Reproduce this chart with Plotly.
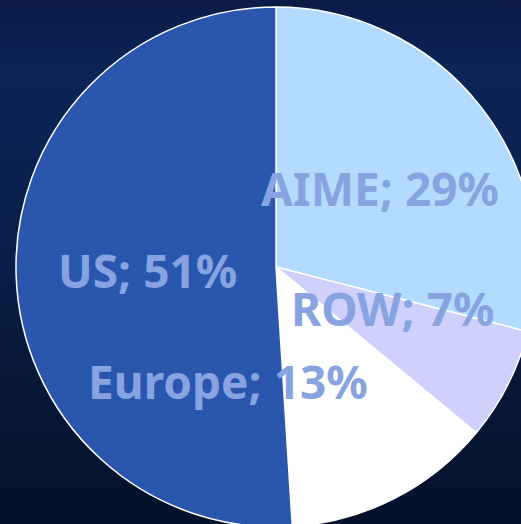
import base64
import plotly.graph_objects as go

labels = ["AIME", "ROW", "Europe", "US"]
values = [29, 7, 13, 51]
colors = ["#b3dbff", "#d0d0ff", "#ffffff", "#2b56ae"]

# label anchor positions (pixel, from top-left)
label_pos = {"AIME": (380, 188), "ROW": (392, 308), "Europe": (228, 381), "US": (147, 270)}

W, H = 552, 534
cx, cy, r = 276, 267, 260

fig = go.Figure(go.Pie(
    labels=labels, values=values, sort=False, direction="clockwise", rotation=0,
    marker=dict(colors=colors, line=dict(color="#ffffff", width=1.5)),
    textinfo="none", hoverinfo="label+percent", showlegend=False,
    domain=dict(x=[(cx - r) / W, (cx + r) / W], y=[(H - cy - r) / H, (H - cy + r) / H]),
))

total = sum(values)
for lab, val in zip(labels, values):
    px, py = label_pos[lab]
    fig.add_annotation(
        x=px / W, y=1 - py / H, xref="paper", yref="paper",
        text=f"<b>{lab}; {round(val / total * 100)}%</b>", showarrow=False,
        font=dict(family="Noto Sans", size=46, color="#87a4e0"),
        xanchor="center", yanchor="middle",
    )

svg = (
    '<svg xmlns="http://www.w3.org/2000/svg" width="100" height="100" preserveAspectRatio="none">'
    '<defs><linearGradient id="g" x1="0" y1="0" x2="0" y2="1">'
    '<stop offset="0" stop-color="#0b1b46"/>'
    '<stop offset="0.13" stop-color="#0c2457"/>'
    '<stop offset="0.45" stop-color="#0a1f4a"/>'
    '<stop offset="0.68" stop-color="#08183a"/>'
    '<stop offset="1" stop-color="#05112a"/>'
    '</linearGradient></defs><rect width="100" height="100" fill="url(#g)"/></svg>'
)
bg_src = "data:image/svg+xml;base64," + base64.b64encode(svg.encode()).decode()

fig.update_layout(
    width=W, height=H, margin=dict(l=0, r=0, t=0, b=0),
    paper_bgcolor="#09193f", plot_bgcolor="#09193f",
    images=[dict(source=bg_src, xref="paper", yref="paper", x=0, y=1,
                 sizex=1, sizey=1, sizing="stretch", xanchor="left", yanchor="top",
                 layer="below")],
)

fig.write_html(
    "out.html",
    config={"displayModeBar": False},
    post_script="document.body.style.margin='0';document.body.style.overflow='hidden';document.documentElement.style.overflow='hidden';",
)
